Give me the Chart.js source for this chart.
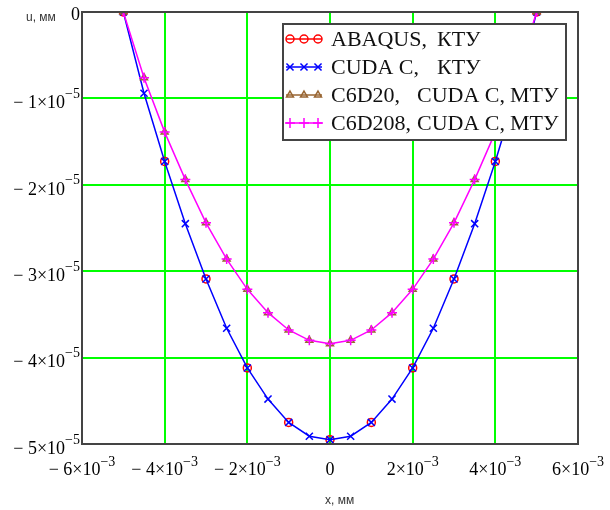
<!DOCTYPE html>
<html>
<head>
<meta charset="utf-8">
<script src="https://cdn.jsdelivr.net/npm/chart.js@4.4.1/dist/chart.umd.min.js"></script>
<style>
  html, body { margin: 0; padding: 0; background: #fff; }
</style>
</head>
<body>
<canvas id="grafico" width="610" height="510"></canvas>
<script>
// x, мм (шаг 0.5e-3) — CUDA C, C6D20, C6D208
const xFine = [-5e-3, -4.5e-3, -4e-3, -3.5e-3, -3e-3, -2.5e-3, -2e-3, -1.5e-3, -1e-3, -0.5e-3, 0,
               0.5e-3, 1e-3, 1.5e-3, 2e-3, 2.5e-3, 3e-3, 3.5e-3, 4e-3, 4.5e-3, 5e-3];
// x, мм (шаг 1e-3) — ABAQUS
const xCoarse = [-5e-3, -4e-3, -3e-3, -2e-3, -1e-3, 0, 1e-3, 2e-3, 3e-3, 4e-3, 5e-3];

const uAbaqus = [0, -1.73e-5, -3.09e-5, -4.12e-5, -4.75e-5, -4.95e-5, -4.75e-5, -4.12e-5, -3.09e-5, -1.73e-5, 0];
const uCuda = [0, -0.94e-5, -1.73e-5, -2.45e-5, -3.09e-5, -3.66e-5, -4.12e-5, -4.48e-5, -4.75e-5, -4.91e-5, -4.95e-5,
               -4.91e-5, -4.75e-5, -4.48e-5, -4.12e-5, -3.66e-5, -3.09e-5, -2.45e-5, -1.73e-5, -0.94e-5, 0];
const uC6D20 = [0, -0.76e-5, -1.39e-5, -1.94e-5, -2.44e-5, -2.86e-5, -3.21e-5, -3.48e-5, -3.68e-5, -3.80e-5, -3.84e-5,
                -3.80e-5, -3.68e-5, -3.48e-5, -3.21e-5, -2.86e-5, -2.44e-5, -1.94e-5, -1.39e-5, -0.76e-5, 0];
const uC6D208 = [0, -0.76e-5, -1.39e-5, -1.94e-5, -2.44e-5, -2.86e-5, -3.21e-5, -3.48e-5, -3.68e-5, -3.80e-5, -3.84e-5,
                 -3.80e-5, -3.68e-5, -3.48e-5, -3.21e-5, -2.86e-5, -2.44e-5, -1.94e-5, -1.39e-5, -0.76e-5, 0];

// деления осей
const xTicks = [-6e-3, -4e-3, -2e-3, 0, 2e-3, 4e-3, 6e-3];
const xTickMant = ['\u2212 6\u00d710', '\u2212 4\u00d710', '\u2212 2\u00d710', '0', '2\u00d710', '4\u00d710', '6\u00d710'];
const xTickExp = ['\u22123', '\u22123', '\u22123', '', '\u22123', '\u22123', '\u22123'];
const yTicks = [0, -1e-5, -2e-5, -3e-5, -4e-5, -5e-5];
const yTickMant = ['0', '\u2212 1\u00d710', '\u2212 2\u00d710', '\u2212 3\u00d710', '\u2212 4\u00d710', '\u2212 5\u00d710'];
const yTickExp = ['', '\u22125', '\u22125', '\u22125', '\u22125', '\u22125'];

const legendRows = [
  { parts: [['ABAQUS,', 0], ['\u041a\u0422\u0423', 106]], color: '#ff0000', style: 'circle', r: 4 },
  { parts: [['CUDA C,', 0], ['\u041a\u0422\u0423', 106]], color: '#0000ff', style: 'crossRot', r: 5 },
  { parts: [['C6D20,', 0], ['CUDA C,', 86], ['\u041c\u0422\u0423', 179]], color: '#996633', style: 'triangle', r: 4 },
  { parts: [['C6D208,', 0], ['CUDA C,', 86], ['\u041c\u0422\u0423', 179]], color: '#ff00ff', style: 'cross', r: 5 }
];

const toPts = (xs, ys) => xs.map((x, i) => ({ x: x, y: ys[i] }));

const serif = '"Liberation Serif", "Times New Roman", serif';

const marcos = {
  id: 'marcos',
  afterDatasetsDraw(chart) {
    const { ctx, chartArea: a, scales } = chart;
    ctx.save();
    // рамка
    ctx.strokeStyle = '#444';
    ctx.lineWidth = 2;
    ctx.strokeRect(a.left, a.top, a.right - a.left, a.bottom - a.top);

    // подписи делений X
    ctx.fillStyle = '#000';
    ctx.textBaseline = 'middle';
    xTicks.forEach((v, i) => {
      const px = scales.x.getPixelForValue(v);
      ctx.font = '18px ' + serif;
      const wm = ctx.measureText(xTickMant[i]).width;
      ctx.font = '14px ' + serif;
      const we = ctx.measureText(xTickExp[i]).width;
      let x0 = px - (wm + we) / 2;
      ctx.textAlign = 'left';
      ctx.font = '18px ' + serif;
      ctx.fillText(xTickMant[i], x0, 470);
      ctx.font = '14px ' + serif;
      ctx.fillText(xTickExp[i], x0 + wm, 462);
    });

    // подписи делений Y
    yTicks.forEach((v, i) => {
      const py = scales.y.getPixelForValue(v);
      ctx.font = '14px ' + serif;
      const we = ctx.measureText(yTickExp[i]).width;
      ctx.textAlign = 'right';
      ctx.font = '14px ' + serif;
      ctx.fillText(yTickExp[i], 80, py - 4);
      ctx.font = '18px ' + serif;
      ctx.fillText(yTickMant[i], 80 - we, i === 0 ? py + 3 : py + 5);
    });

    // названия осей
    ctx.font = '12px "Liberation Sans", Arial, sans-serif';
    ctx.fillStyle = '#333';
    ctx.textAlign = 'left';
    ctx.fillText('u, \u043c\u043c', 26, 18);
    ctx.fillText('x, \u043c\u043c', 325, 501);

    // легенда
    const bx = 283, by = 24, bw = 283, bh = 116;
    ctx.fillStyle = '#fff';
    ctx.fillRect(bx, by, bw, bh);
    ctx.strokeStyle = '#444';
    ctx.lineWidth = 2;
    ctx.strokeRect(bx, by, bw, bh);
    legendRows.forEach((row, i) => {
      const cy = 39 + i * 28;
      ctx.strokeStyle = row.color;
      ctx.lineWidth = 1.5;
      ctx.beginPath();
      ctx.moveTo(286, cy);
      ctx.lineTo(322, cy);
      ctx.stroke();
      [290, 304, 318].forEach(mx => {
        ctx.fillStyle = 'rgba(0,0,0,0)';
        ctx.strokeStyle = row.color;
        ctx.lineWidth = 1.5;
        Chart.helpers.drawPoint(ctx, { pointStyle: row.style, radius: row.r, rotation: 0, borderWidth: 1.5 }, mx, cy);
      });
      ctx.fillStyle = '#111';
      ctx.font = '22px ' + serif;
      ctx.textAlign = 'left';
      row.parts.forEach(([t, dx]) => ctx.fillText(t, 331 + dx, cy + 1));
    });
    ctx.restore();
  }
};

new Chart(document.getElementById('grafico'), {
  type: 'scatter',
  data: {
    datasets: [
      {
        label: 'ABAQUS, \u041a\u0422\u0423',
        data: toPts(xCoarse, uAbaqus),
        showLine: false,
        pointStyle: 'circle',
        pointRadius: 4,
        pointBorderWidth: 1.5,
        borderColor: '#ff0000',
        backgroundColor: 'rgba(0,0,0,0)',
        order: 4
      },
      {
        label: 'CUDA C, \u041a\u0422\u0423',
        data: toPts(xFine, uCuda),
        showLine: true,
        borderWidth: 1.5,
        pointStyle: 'crossRot',
        pointRadius: 5,
        pointBorderWidth: 1.5,
        borderColor: '#0000ff',
        backgroundColor: 'rgba(0,0,0,0)',
        order: 3
      },
      {
        label: 'C6D20, CUDA C, \u041c\u0422\u0423',
        data: toPts(xFine, uC6D20),
        showLine: false,
        pointStyle: 'triangle',
        pointRadius: 4,
        pointBorderWidth: 1.5,
        borderColor: '#996633',
        backgroundColor: 'rgba(0,0,0,0)',
        order: 2
      },
      {
        label: 'C6D208, CUDA C, \u041c\u0422\u0423',
        data: toPts(xFine, uC6D208),
        showLine: true,
        borderWidth: 1.5,
        pointStyle: 'cross',
        pointRadius: 5,
        pointBorderWidth: 1.5,
        borderColor: '#ff00ff',
        backgroundColor: 'rgba(0,0,0,0)',
        order: 1
      }
    ]
  },
  options: {
    responsive: false,
    animation: false,
    devicePixelRatio: 1,
    layout: { padding: { left: 0, right: 32, top: 12, bottom: 0 } },
    plugins: {
      legend: { display: false },
      tooltip: { enabled: false }
    },
    scales: {
      x: {
        type: 'linear',
        min: -6e-3,
        max: 6e-3,
        afterBuildTicks: s => { s.ticks = xTicks.map(v => ({ value: v })); },
        afterFit: s => { s.height = 66; },
        ticks: { display: false },
        border: { display: false },
        grid: { color: '#00ff00', lineWidth: 2, drawTicks: false }
      },
      y: {
        type: 'linear',
        min: -5e-5,
        max: 0,
        afterBuildTicks: s => { s.ticks = yTicks.map(v => ({ value: v })); },
        afterFit: s => { s.width = 82; },
        ticks: { display: false },
        border: { display: false },
        grid: { color: '#00ff00', lineWidth: 2, drawTicks: false }
      }
    }
  },
  plugins: [marcos]
});
</script>
</body>
</html>
